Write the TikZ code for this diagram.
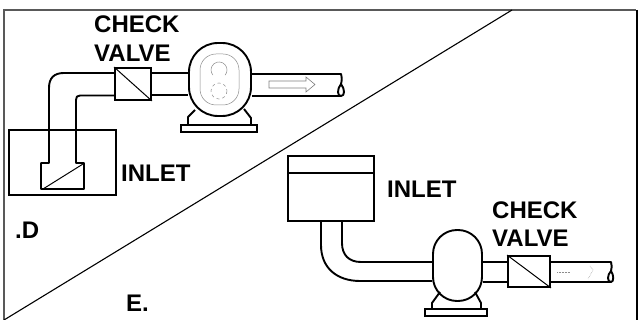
\documentclass[tikz,border=0pt]{standalone}
\usepackage{fontspec}
\setmainfont{Liberation Sans}
\usetikzlibrary{arrows.meta,positioning}
\tikzset{
  pipe/.style={line width=1.9pt, line join=round},
  thin line/.style={line width=1pt},
  box/.style={draw, line width=1.9pt, inner sep=0pt, fill=white},
  pump/.style={box, rounded corners=29pt},
  lbl/.style={anchor=base west, inner sep=0pt, align=left, font=\fontsize{24}{29}\selectfont\bfseries},
  faint/.style={draw=black!45, line width=0.5pt},
}
\begin{document}
\begin{tikzpicture}[x=1pt,y=-1pt]
\useasboundingbox (0,0) rectangle (641,320);
\fill[white] (0,0) rectangle (641,320);
% frame and divider
\draw[black!65, line width=1.5pt] (4,320) -- (4,10) -- (636,10);
\draw[line width=2pt] (636.5,10) -- (636.5,320);
\coordinate (divA) at (4,320);
\coordinate (divB) at (512,10);
\draw[line width=1.1pt] (divA) -- (divB);
% upper system
\node[box, minimum width=107pt, minimum height=65pt, fill=none] (tankD) at (62.5,162.5) {};
\node[box, minimum width=36pt, minimum height=32pt] (valveD) at (133,84) {};
\node[pump, minimum width=62pt, minimum height=73pt] (pumpD) at (220,79.5) {};
\node[box, minimum width=76pt, minimum height=7pt] (baseD) at (219,128.5) {};
\draw[thin line] (valveD.north west) -- (valveD.south east);
\draw[pipe] (valveD.west |- 0,73) -- (64,73) .. controls (54,73) and (49,78) .. (49,88) -- (49,163) -- (41,163) -- (41,189) -- (84,189) -- (84,163) -- (76,163) -- (76,100) .. controls (76,97) and (77,95.5) .. (80,95.5) -- (valveD.west |- 0,95.5);
\draw[thin line] (43,189) -- (83,164);
\draw[pipe] (valveD.east |- 0,73) -- (pumpD.west |- 0,73);
\draw[pipe] (valveD.east |- 0,95) -- (pumpD.west |- 0,95);
\draw[pipe] (pumpD.east |- 0,74) -- (341,74) .. controls (342,78) and (342,80) .. (341,84) .. controls (337,89) and (337,96) .. (341,96) .. controls (345,96) and (345,89) .. (341,84);
\draw[pipe] (pumpD.east |- 0,96) -- (341,96);
\draw[pipe] (195,110) -- (188,117) -- (188,125);
\draw[pipe] (244,109) -- (251,118) -- (251,125);
% inner outline of the pump
\draw[faint, rounded corners=16pt] (200,54) rectangle (239,105);
\draw[faint] (212.9,75.1) arc (140:400:8);
\draw[faint, dashed] (227,91) arc (0:360:8);
\draw[black!50, line width=0.6pt] (269,81) -- (306,81) -- (306,77) -- (315,84.5) -- (306,92) -- (306,88) -- (269,88) -- cycle;
% lower system
\node[box, minimum width=86pt, minimum height=65pt] (tankE) at (331,188.5) {};
\draw[pipe] (tankE.west |- 0,173) -- (tankE.east |- 0,173);
\node[box, minimum width=42pt, minimum height=31pt] (valveE) at (529,271.5) {};
\node[pump, rounded corners=24pt, minimum width=49pt, minimum height=71pt] (pumpE) at (457.5,265.5) {};
\node[box, minimum width=62pt, minimum height=7pt] (baseE) at (456,312.5) {};
\draw[thin line] (valveE.north west) -- (valveE.south east);
\draw[pipe] (321,221) -- (321,245) .. controls (321,268) and (337,281) .. (360,281) -- (pumpE.west |- 0,281);
\draw[pipe] (342,221) -- (342,243) .. controls (342,255) and (349,262) .. (361,262) -- (pumpE.west |- 0,262);
\draw[pipe] (pumpE.east |- 0,262) -- (valveE.west |- 0,262);
\draw[pipe] (pumpE.east |- 0,282) -- (valveE.west |- 0,282);
\draw[pipe] (valveE.east |- 0,262) -- (611,262) .. controls (612,265) and (612,268) .. (611,271) .. controls (607,275) and (607,282) .. (611,282) .. controls (614,282) and (614,275) .. (611,271);
\draw[pipe] (valveE.east |- 0,282) -- (611,282);
\draw[pipe] (440,292) -- (432,303) -- (432,309);
\draw[pipe] (475,292) -- (481,303) -- (481,309);
\draw[faint, densely dotted] (557,272) -- (570,272);
\draw[faint, densely dotted] (590,266) -- (593,270) -- (588,279);
% labels
\node[lbl] (checkD) at (94,33) {CHECK};
\node[lbl] (valvD) at (94,62) {VALVE};
\node[lbl] (inletD) at (121,182) {INLET};
\node[lbl] (nameD) at (15,239) {.D};
\node[lbl] (inletE) at (387,198) {INLET};
\node[lbl] (checkE) at (492,219) {CHECK};
\node[lbl] (valvE) at (492,247) {VALVE};
\node[lbl] (nameE) at (126,312) {E.};
\end{tikzpicture}
\end{document}
